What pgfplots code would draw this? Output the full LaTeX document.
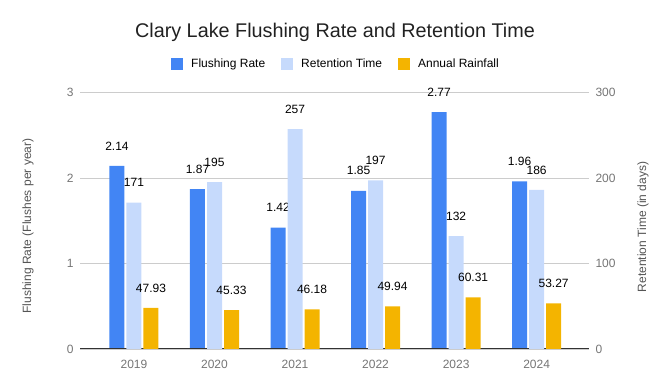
\documentclass[border=0pt]{standalone}
\usepackage{pgfplots}
\pgfplotsset{compat=1.18}
\usepackage{fontspec}
\setmainfont{Liberation Sans}
\definecolor{cBlue}{HTML}{4285F4}
\definecolor{cLight}{HTML}{C6DAFC}
\definecolor{cYellow}{HTML}{F4B400}
\definecolor{cTick}{HTML}{757575}
\definecolor{cLab}{HTML}{555555}
\definecolor{cGrid}{HTML}{CCCCCC}
\definecolor{cBase}{HTML}{333333}
\newcommand{\fs}[1]{\fontsize{#1}{#1}\selectfont}
\pgfplotsset{
  common/.style={
    at={(80pt,41pt)}, anchor=south west,
    scale only axis, width=509pt, height=256.6pt,
    xmin=-0.67, xmax=5.65,
    ybar, bar width=15pt,
    axis line style={draw=none},
    major tick length=0pt,
    /pgf/number format/assume math mode=true,
    tick label style={font=\fs{12}, color=cTick},
    nodes near coords,
    nodes near coords align={anchor=center},
    every node near coord/.append style={font=\fs{12}, color=black, inner sep=0pt, yshift=20pt},
    clip=false,
  },
  sq/.style={legend image code/.code={\fill[##1,draw=none] (0pt,-6pt) rectangle (12pt,6pt);}},
}
\begin{document}
\begin{tikzpicture}
\path[use as bounding box] (0pt,0pt) rectangle (670pt,390pt);
\begin{axis}[common,
  ymin=0, ymax=3, ytick={0,1,2,3},
  ymajorgrids, grid style={cGrid, line width=0.8pt},
  xtick={0,1,2,3,4,5}, xticklabels={2019,2020,2021,2022,2023,2024},
  xticklabel style={yshift=-8pt},
  yticklabel style={xshift=-3pt},
]
\addplot+[fill=cBlue, draw=none, bar shift=-17pt] coordinates {(0,2.14) (1,1.87) (2,1.42) (3,1.85) (4,2.77) (5,1.96)};
\draw[cBase, line width=1pt] (axis cs:-0.67,0) -- (axis cs:5.65,0);
\end{axis}
\begin{axis}[common,
  ymin=0, ymax=300, ytick={0,100,200,300},
  axis y line*=right, axis x line=none,
  xtick=\empty,
  yticklabel style={xshift=3pt},
  legend columns=3,
  legend style={at={(0.501,1.111)}, anchor=center, draw=none, fill=none,
    font=\fs{12}, text=black, inner sep=0pt,
    /tikz/every odd column/.append style={column sep=8pt},
    /tikz/every even column/.append style={column sep=16pt},
    nodes={inner sep=0pt}},
]
\addlegendimage{sq, fill=cBlue, draw=none}
\addlegendentry{Flushing Rate}
\addplot+[sq, fill=cLight, draw=none, bar shift=0pt] coordinates {(0,171) (1,195) (2,257) (3,197) (4,132) (5,186)};
\addlegendentry{Retention Time}
\addplot+[sq, fill=cYellow, draw=none, bar shift=17pt] coordinates {(0,47.93) (1,45.33) (2,46.18) (3,49.94) (4,60.31) (5,53.27)};
\addlegendentry{Annual Rainfall}
\end{axis}
\node[font=\fs{19.8}, color=black!87] at (335pt,358pt) {Clary Lake Flushing Rate and Retention Time};
\node[font=\fs{12}, color=cLab, rotate=90] at (28pt,164pt) {Flushing Rate (Flushes per year)};
\node[font=\fs{12}, color=cLab, rotate=90] at (643pt,163pt) {Retention Time (in days)};
\end{tikzpicture}
\end{document}
